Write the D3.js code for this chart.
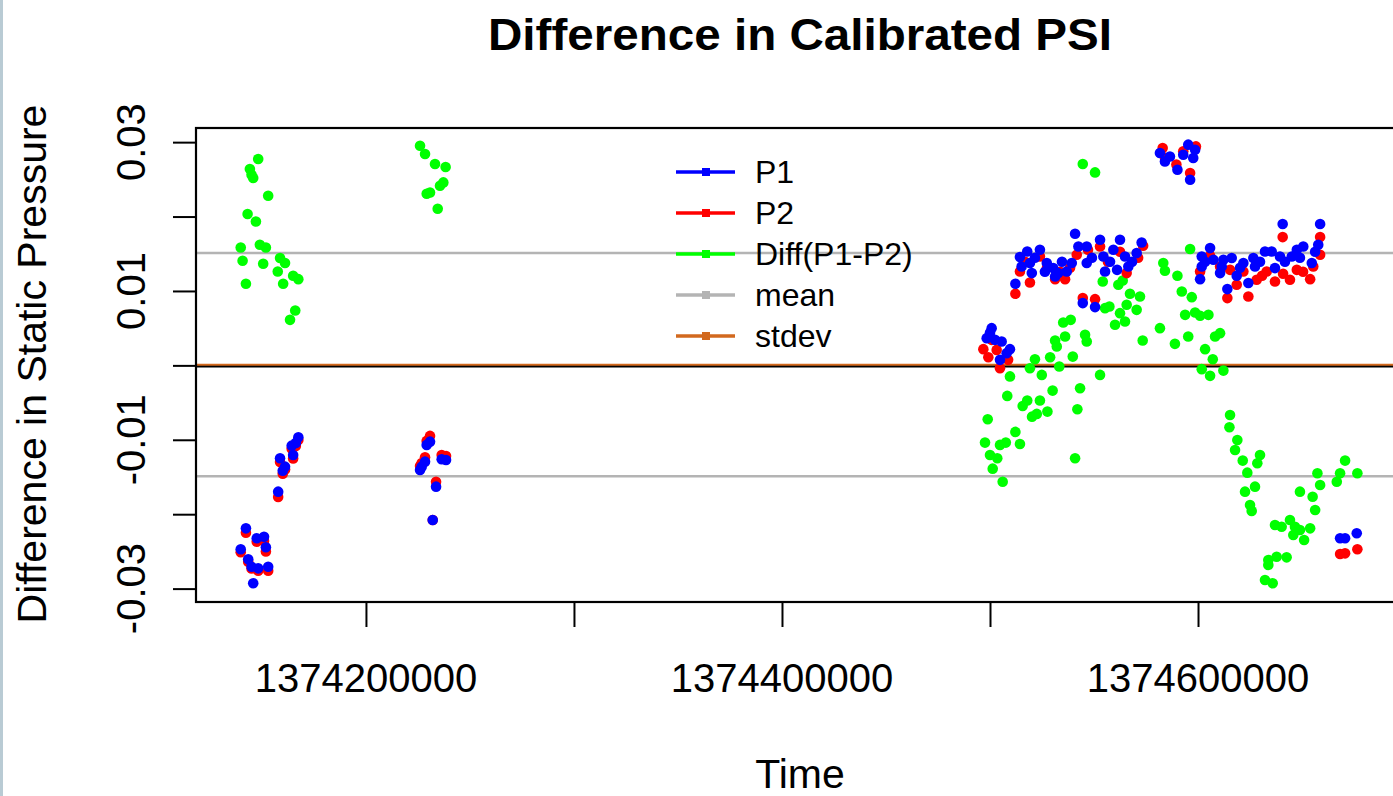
<!DOCTYPE html>
<html>
<head>
<meta charset="utf-8">
<script src="https://cdn.jsdelivr.net/npm/d3@7"></script>
<style>
  body { margin: 0; background: #fff; overflow: hidden; }
  text { font-family: "Liberation Sans", Arial, sans-serif; fill: #000; }
</style>
</head>
<body>
<script>
// Difference in Calibrated PSI - scatter of P1, P2 and their difference over time
const width = 1393;
const height = 796;

// --- data (time in epoch seconds, value in psi) ---
const diffPoints = [
  [1374148200,0.02773],[1374144200,0.02639],[1374145000,0.02562],[1374145800,0.02518],[1374153000,0.02280],
  [1374143100,0.02034],[1374147100,0.01934],[1374139800,0.01584],[1374149000,0.01621],[1374151900,0.01584],
  [1374140700,0.01406],[1374150600,0.01365],[1374158700,0.01442],[1374161100,0.01375],[1374157600,0.01262],
  [1374165000,0.01204],[1374167500,0.01159],[1374142300,0.01096],[1374160200,0.01096],[1374166000,0.00737],
  [1374163500,0.00612],
  [1374226000,0.02952],[1374228400,0.02841],[1374233200,0.02706],[1374238300,0.02666],[1374237200,0.02459],
  [1374235600,0.02414],[1374230800,0.02324],[1374229200,0.02307],[1374234500,0.02105],
  [1374544600,0.02706],[1374550500,0.02593],[1374583300,0.01375],[1374584100,0.01271],[1374554200,0.01127],
  [1374561700,0.01083],[1374563800,0.01141],[1374567300,0.00962],[1374572100,0.00925],[1374557400,0.00791],
  [1374555300,0.00769],[1374565700,0.00814],[1374562500,0.00702],[1374570500,0.00746],[1374564900,0.00589],
  [1374560100,0.00545],[1374538800,0.00612],[1374535200,0.00576],[1374581700,0.00500],[1374536100,0.00387],
  [1374545700,0.00410],[1374546500,0.00320],[1374531300,0.00334],[1374532100,0.00253],[1374573400,0.00334],
  [1374528900,0.00110],[1374521600,0.00083],[1374539800,0.00118],[1374519200,-0.00038],[1374533300,-0.00016],
  [1374509600,-0.00148],[1374524900,-0.00128],[1374552900,-0.00128],[1374543300,-0.00307],[1374530100,-0.00339],
  [1374508300,-0.00410],[1374517900,-0.00473],[1374524000,-0.00473],[1374515700,-0.00545],[1374527600,-0.00621],
  [1374542000,-0.00589],[1374522500,-0.00652],[1374520200,-0.00689],[1374498900,-0.00724],[1374512200,-0.00894],
  [1374497600,-0.01038],[1374504800,-0.01069],[1374507600,-0.01038],[1374514400,-0.01056],[1374500000,-0.01204],
  [1374503500,-0.01248],[1374540900,-0.01248],[1374501300,-0.01388],[1374506100,-0.01563],
  [1374596200,0.01563],[1374590100,0.01204],[1374592200,0.00993],[1374597000,0.00917],[1374593800,0.00679],
  [1374598600,0.00710],[1374601000,0.00666],[1374605000,0.00679],[1374595300,0.00387],[1374608200,0.00387],
  [1374610600,0.00433],[1374588900,0.00289],[1374603400,0.00218],[1374607100,0.00083],[1374601800,-0.00051],
  [1374605800,-0.00141],[1374612200,-0.00070],
  [1374615400,-0.00666],[1374615100,-0.00831],[1374618900,-0.01002],[1374617800,-0.01137],[1374621500,-0.01280],
  [1374629800,-0.01204],[1374628500,-0.01315],[1374623700,-0.01442],[1374627400,-0.01630],[1374622600,-0.01697],
  [1374625000,-0.01876],[1374625800,-0.01957],[1374637000,-0.02145],[1374640200,-0.02168],[1374644200,-0.02078],
  [1374646600,-0.02168],[1374649000,-0.02213],[1374653900,-0.02190],[1374645800,-0.02280],[1374651000,-0.02347],
  [1374649000,-0.01697],[1374655100,-0.01765],[1374656300,-0.01944],[1374658700,-0.01607],[1374657400,-0.01450],
  [1374670700,-0.01280],[1374668300,-0.01450],[1374666700,-0.01563],[1374676600,-0.01450],[1374633800,-0.02616],
  [1374637800,-0.02572],[1374642600,-0.02580],[1374633800,-0.02683],[1374632200,-0.02885],[1374635900,-0.02929]
];

const p1Points = [
  [1374167500,-0.00966],[1374164300,-0.01079],[1374166300,-0.01042],[1374165000,-0.01204],[1374158700,-0.01248],
  [1374161100,-0.01361],[1374160000,-0.01415],[1374157800,-0.01697],[1374142300,-0.02190],[1374147500,-0.02324],
  [1374151000,-0.02303],[1374151900,-0.02445],[1374139800,-0.02472],[1374143400,-0.02607],[1374145000,-0.02706],
  [1374148200,-0.02728],[1374153000,-0.02706],[1374145800,-0.02929],
  [1374230800,-0.01025],[1374229200,-0.01069],[1374236400,-0.01262],[1374238500,-0.01271],[1374228400,-0.01294],
  [1374226000,-0.01406],[1374226800,-0.01361],[1374233700,-0.01630],[1374232100,-0.02078],
  [1374500800,0.00500],[1374498400,0.00366],[1374502400,0.00343],[1374505600,0.00320],[1374509600,0.00218],
  [1374508000,0.00164],[1374504800,0.00074],[1374500000,0.00437],
  [1374512200,0.01096],[1374514400,0.01455],[1374517900,0.01531],[1374524000,0.01553],[1374515200,0.01329],
  [1374520100,0.01240],[1374519200,0.01375],[1374527300,0.01375],[1374530400,0.01307],[1374532800,0.01240],
  [1374531300,0.01194],[1374536900,0.01262],[1374539300,0.01375],[1374540900,0.01769],[1374542500,0.01598],
  [1374546500,0.01598],[1374546500,0.01375],[1374552900,0.01688],[1374554500,0.01463],[1374555300,0.01262],
  [1374559300,0.01553],[1374562500,0.01688],[1374564900,0.01463],[1374566500,0.01329],[1374570500,0.01509],
  [1374572900,0.01652],[1374544600,0.00837],[1374550500,0.00783],
  [1374521600,0.01446],[1374534600,0.01392],[1374526400,0.01258],[1374549000,0.01446],[1374557700,0.01392],
  [1374568300,0.01392],[1374561100,0.01284],
  [1374581700,0.02854],[1374584100,0.02741],[1374586500,0.02808],[1374590100,0.02629],[1374592900,0.02831],
  [1374595300,0.02966],[1374597700,0.02787],[1374596200,0.02495],[1374598600,0.02898],
  [1374605800,0.01576],[1374601800,0.01463],[1374601800,0.01329],[1374601000,0.01159],[1374607400,0.01419],
  [1374611400,0.01329],[1374612200,0.01419],[1374616200,0.01442],[1374610600,0.01240],[1374614100,0.01025],
  [1374618600,0.01204],[1374621800,0.01375],[1374624200,0.01106],[1374626600,0.01442],[1374627400,0.01329],
  [1374632200,0.01531],[1374635400,0.01531],[1374637000,0.01307],[1374639400,0.01463],[1374645100,0.01463],
  [1374647500,0.01553],[1374650600,0.01598],[1374654700,0.01375],[1374657800,0.01621],[1374640700,0.01899],
  [1374658700,0.01899],
  [1374603400,0.01392],[1374620200,0.01311],[1374629800,0.01392],[1374641800,0.01392],[1374649000,0.01446],
  [1374656300,0.01527],
  [1374668300,-0.02324],[1374670700,-0.02324],[1374676300,-0.02257]
];

const p2Points = [
  [1374167500,-0.01003],[1374164300,-0.01120],[1374166300,-0.01083],[1374165000,-0.01250],[1374158700,-0.01300],
  [1374161100,-0.01400],[1374160000,-0.01455],[1374157800,-0.01768],[1374142300,-0.02250],[1374147500,-0.02370],
  [1374151000,-0.02360],[1374151900,-0.02500],[1374139800,-0.02510],[1374143400,-0.02640],[1374145000,-0.02730],
  [1374148200,-0.02760],[1374153000,-0.02760],
  [1374230800,-0.00948],[1374229200,-0.01015],[1374236400,-0.01204],[1374238500,-0.01217],[1374228400,-0.01234],
  [1374226000,-0.01352],[1374226800,-0.01311],[1374233700,-0.01563],[1374232100,-0.02078],
  [1374496800,0.00218],[1374499200,0.00110],[1374504800,-0.00038],[1374508700,0.00074],[1374503200,0.00208],
  [1374500800,0.00343],
  [1374512200,0.00962],[1374514400,0.01262],[1374519200,0.01114],[1374524000,0.01463],[1374531300,0.01159],
  [1374536100,0.01159],[1374541700,0.01486],[1374552900,0.01598],[1374565700,0.01240],[1374544600,0.00904],
  [1374550500,0.00890],[1374516800,0.01392],[1374527400,0.01311],[1374533700,0.01258],[1374538500,0.01311],
  [1374547100,0.01553],[1374556700,0.01392],[1374562500,0.01527],[1374571200,0.01446],[1374573600,0.01607],
  [1374583000,0.02921],[1374592900,0.02876],[1374599000,0.02943],[1374596200,0.02585],[1374584100,0.02790],
  [1374589600,0.02700],
  [1374640700,0.01724],[1374658700,0.01724],[1374601000,0.01262],[1374614100,0.00904],[1374618600,0.01083],
  [1374624200,0.00925],[1374628200,0.01150],[1374633000,0.01262],[1374637000,0.01127],[1374644200,0.01150],
  [1374653900,0.01159],[1374647500,0.01284],[1374655400,0.01329],[1374658700,0.01486],[1374610600,0.01329],
  [1374621800,0.01262],[1374605800,0.01473],[1374615400,0.01284],[1374630800,0.01204],[1374640900,0.01231],
  [1374650500,0.01258],
  [1374668300,-0.02535],[1374670700,-0.02526],[1374676600,-0.02472]
];

const meanLines = [0.0151, -0.0149];
const zeroLine = 0;
const stdevLine = 0.00003;

const xTicks = [1374200000, 1374300000, 1374400000, 1374500000, 1374600000];
const xTickLabels = [1374200000, 1374400000, 1374600000];
const yTicks = [-0.03, -0.02, -0.01, 0, 0.01, 0.02, 0.03];
const yTickLabels = [-0.03, -0.01, 0.01, 0.03];

const legendItems = [
  { label: "P1", color: "#0000ff" },
  { label: "P2", color: "#ff0000" },
  { label: "Diff(P1-P2)", color: "#00ff00" },
  { label: "mean", color: "#b4b4b4" },
  { label: "stdev", color: "#d2691e" }
];

// --- layout ---
const plot = { left: 196, top: 128, right: 1400, bottom: 602 };

const x = d3.scaleLinear()
  .domain([1374118300, 1374697100])
  .range([plot.left, plot.right]);

const y = d3.scaleLinear()
  .domain([-0.0318, 0.0319])
  .range([plot.bottom, plot.top]);

const svg = d3.select("body").append("svg")
  .attr("width", width)
  .attr("height", height);

svg.append("rect").attr("width", width).attr("height", height).attr("fill", "#fff");
// thin window edge on the left
svg.append("rect").attr("x", 0).attr("width", 3).attr("height", height).attr("fill", "#b9cbd4");

// reference lines
svg.append("g").selectAll("line")
  .data(meanLines)
  .join("line")
  .attr("x1", plot.left).attr("x2", plot.right)
  .attr("y1", d => y(d)).attr("y2", d => y(d))
  .attr("stroke", "#b4b4b4").attr("stroke-width", 2.5);

svg.append("line")
  .attr("x1", plot.left).attr("x2", plot.right)
  .attr("y1", y(zeroLine) + 1).attr("y2", y(zeroLine) + 1)
  .attr("stroke", "#000").attr("stroke-width", 2.5);

svg.append("line")
  .attr("x1", plot.left).attr("x2", plot.right)
  .attr("y1", y(stdevLine) - 0.5).attr("y2", y(stdevLine) - 0.5)
  .attr("stroke", "#d2691e").attr("stroke-width", 2);

// points: diff first, then P2, then P1 on top
const drawPoints = (data, color) => {
  svg.append("g").selectAll("circle")
    .data(data)
    .join("circle")
    .attr("cx", d => x(d[0]))
    .attr("cy", d => y(d[1]))
    .attr("r", 5.3)
    .attr("fill", color);
};
drawPoints(diffPoints, "#00ff00");
drawPoints(p2Points, "#ff0000");
drawPoints(p1Points, "#0000ff");

// plot box
svg.append("rect")
  .attr("x", plot.left).attr("y", plot.top)
  .attr("width", plot.right - plot.left).attr("height", plot.bottom - plot.top)
  .attr("fill", "none").attr("stroke", "#000").attr("stroke-width", 2.2);

// axes
const yAxis = svg.append("g")
  .attr("transform", `translate(${plot.left},0)`)
  .call(d3.axisLeft(y).tickValues(yTicks).tickSize(23).tickFormat(""));
const xAxis = svg.append("g")
  .attr("transform", `translate(0,${plot.bottom})`)
  .call(d3.axisBottom(x).tickValues(xTicks).tickSize(25).tickFormat(""));
[yAxis, xAxis].forEach(a => {
  a.select(".domain").remove();
  a.selectAll(".tick line").attr("stroke", "#000").attr("stroke-width", 2);
});

// tick labels
svg.append("g").selectAll("text")
  .data(yTickLabels)
  .join("text")
  .attr("transform", d => `translate(145,${y(d)}) rotate(-90)`)
  .attr("text-anchor", "middle")
  .attr("font-size", 40)
  .text(d => String(d));

svg.append("g").selectAll("text")
  .data(xTickLabels)
  .join("text")
  .attr("x", d => x(d))
  .attr("y", 692)
  .attr("text-anchor", "middle")
  .attr("font-size", 40)
  .text(d => String(d));

// titles
svg.append("text")
  .attr("x", 800).attr("y", 50)
  .attr("text-anchor", "middle")
  .attr("font-size", 45).attr("font-weight", "bold")
  .attr("textLength", 624).attr("lengthAdjust", "spacingAndGlyphs")
  .text("Difference in Calibrated PSI");

svg.append("text")
  .attr("x", 800).attr("y", 788)
  .attr("text-anchor", "middle")
  .attr("font-size", 41)
  .text("Time");

svg.append("text")
  .attr("transform", "translate(46,364) rotate(-90)")
  .attr("text-anchor", "middle")
  .attr("font-size", 41)
  .text("Difference in Static Pressure");

// legend
const legend = svg.append("g").attr("transform", "translate(676,172)");
const rows = legend.selectAll("g")
  .data(legendItems)
  .join("g")
  .attr("transform", (d, i) => `translate(0,${i * 41})`);
rows.append("line")
  .attr("x1", 0).attr("x2", 59)
  .attr("stroke", d => d.color).attr("stroke-width", 3.5);
rows.append("rect")
  .attr("x", 26).attr("y", -4).attr("width", 8).attr("height", 8)
  .attr("fill", d => d.color);
rows.append("text")
  .attr("x", 79).attr("y", 11)
  .attr("font-size", 32)
  .text(d => d.label);
</script>
</body>
</html>
